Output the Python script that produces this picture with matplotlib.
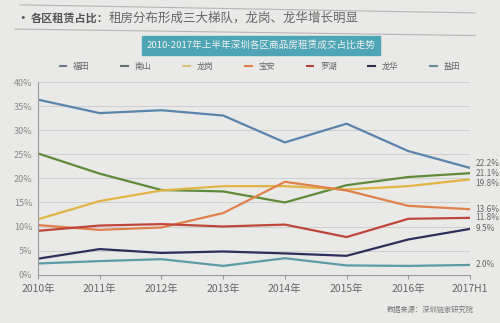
import matplotlib
matplotlib.use('Agg')
import matplotlib.pyplot as plt
from matplotlib.lines import Line2D

plt.rcParams['font.family'] = ['Noto Sans CJK SC', 'DejaVu Sans']

years = ['2010年', '2011年', '2012年', '2013年', '2014年', '2015年', '2016年', '2017H1']
districts = ['福田', '南山', '龙岗', '宝安', '罗湖', '龙华', '盐田']
futian = [36.4, 33.6, 34.2, 33.1, 27.5, 31.4, 25.7, 22.2]
nanshan = [25.2, 21.0, 17.6, 17.3, 15.0, 18.6, 20.3, 21.1]
longgang = [11.5, 15.3, 17.5, 18.4, 18.4, 17.7, 18.4, 19.8]
baoan = [10.3, 9.3, 9.8, 12.8, 19.3, 17.5, 14.3, 13.6]
luohu = [9.1, 10.2, 10.5, 10.0, 10.4, 7.8, 11.6, 11.8]
longhua = [3.3, 5.3, 4.5, 4.8, 4.4, 3.9, 7.3, 9.5]
yantian = [2.3, 2.8, 3.2, 1.8, 3.4, 1.9, 1.8, 2.0]
end_labels = ['22.2%', '21.1%', '19.8%', '13.6%', '11.8%', '9.5%', '2.0%']

series = [futian, nanshan, longgang, baoan, luohu, longhua, yantian]
colors = ['#5a84ab', '#5f8a3a', '#e0b545', '#e0804a', '#c0453a', '#2e2e5c', '#5e9aa8']
legend_colors = ['#6d7c8a', '#5f6f70', '#d9c27a', '#e0804a', '#b0453a', '#2e2e4c', '#6a8a96']
label_shift = [3, 0, -3, 0, 0, 0, 0]

fig = plt.figure(figsize=(5, 3.23), dpi=100)
fig.patch.set_facecolor('#e9e9e7')

# header
fig.lines.append(Line2D([0.04, 0.95], [0.985, 0.96], color='#b5b5b5', lw=0.8, transform=fig.transFigure))
fig.lines.append(Line2D([0.03, 0.95], [0.91, 0.89], color='#b5b5b5', lw=0.8, transform=fig.transFigure))
fig.text(0.046, 0.944, '·', fontsize=9, fontweight='bold', color='#555555', va='center', ha='center')
fig.text(0.062, 0.944, '各区租赁占比：', fontsize=8, fontweight='bold', color='#555555', va='center')
fig.text(0.218, 0.944, '租房分布形成三大梯队，龙岗、龙华增长明显', fontsize=9, color='#666666', va='center')
fig.text(0.522, 0.859, '2010-2017年上半年深圳各区商品房租赁成交占比走势', fontsize=6.9,
         color='#f2f2f2', ha='center', va='center',
         bbox=dict(boxstyle='square,pad=0.5', fc='#4ea5b6', ec='#4ea5b6'))

ax = fig.add_axes([0.076, 0.15, 0.864, 0.595])
ax.set_facecolor('#e9e9e7')
x = list(range(len(years)))
for vals, c in zip(series, colors):
    ax.plot(x, vals, color=c, lw=1.6)
for vals, lab, dy in zip(series, end_labels, label_shift):
    ax.annotate(lab, (x[-1], vals[-1]), xytext=(4, dy), textcoords='offset points',
                fontsize=6, color='#666666', va='center', annotation_clip=False)

ax.set_xlim(0, len(years) - 1)
ax.set_ylim(0, 40)
ax.set_yticks(range(0, 41, 5))
ax.set_yticklabels(['%d%%' % v for v in range(0, 41, 5)])
ax.set_xticks(x)
ax.set_xticklabels(years)
ax.tick_params(axis='y', length=0, labelsize=6.5, labelcolor='#888888', pad=4)
ax.tick_params(axis='x', length=3, labelsize=7.5, labelcolor='#666666', color='#999999')
ax.grid(axis='y', color='#cfcfcf', lw=0.7)
for s in ['top', 'right']:
    ax.spines[s].set_visible(False)
for s in ['left', 'bottom']:
    ax.spines[s].set_color('#999999')

handles = [Line2D([], [], color=c, lw=1.5) for c in legend_colors]
fig.legend(handles, districts, loc='center', bbox_to_anchor=(0.52, 0.795), ncol=7,
           frameon=False, fontsize=6, labelcolor='#666666', handlelength=0.8,
           handletextpad=0.8, columnspacing=3.8)

fig.text(0.86, 0.035, '数据来源：深圳链家研究院', fontsize=5.2, color='#777777', ha='center')

fig.savefig('out.png', dpi=100, facecolor=fig.get_facecolor())
